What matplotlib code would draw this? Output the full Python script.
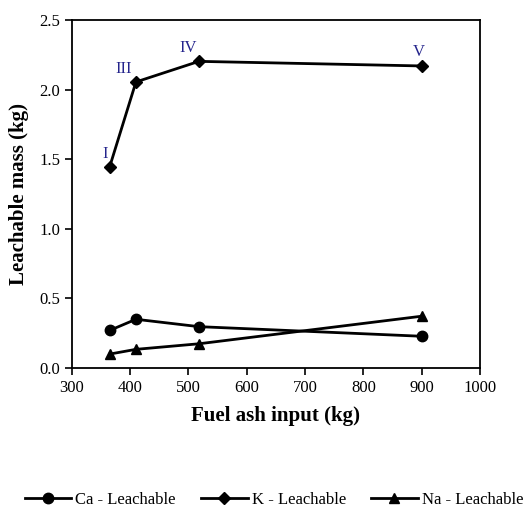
import matplotlib
matplotlib.use("Agg")
import matplotlib.pyplot as plt

plt.rcParams['font.family'] = ['Liberation Serif', 'DejaVu Serif']

# data
ash_input = [365, 410, 518, 900]
ca_leach = [0.27, 0.35, 0.297, 0.228]
k_leach = [1.446, 2.055, 2.203, 2.17]
na_leach = [0.10, 0.134, 0.174, 0.372]
run_labels = ['I', 'III', 'IV', 'V']
label_offsets = [(-5, 13), (-12, 13), (-11, 13), (-3, 14)]

fig = plt.figure(figsize=(5.28, 5.08), dpi=100)
ax = fig.add_axes([0.136, 0.2756, 0.773, 0.685])

ax.plot(ash_input, ca_leach, color='black', lw=2, marker='o', ms=7.5, label='Ca - Leachable')
ax.plot(ash_input, k_leach, color='black', lw=2, marker='D', ms=6, label='K - Leachable')
ax.plot(ash_input, na_leach, color='black', lw=2, marker='^', ms=7.5, label='Na - Leachable')

for x, y, lab, off in zip(ash_input, k_leach, run_labels, label_offsets):
    ax.annotate(lab, (x, y), xytext=off, textcoords='offset pixels',
                ha='center', va='center', fontsize=12, color='#24248c')

ax.set_xlim(300, 1000)
ax.set_ylim(0, 2.5)
ax.set_xticks(range(300, 1001, 100))
ax.set_yticks([0, 0.5, 1.0, 1.5, 2.0, 2.5])
ax.yaxis.set_major_formatter(matplotlib.ticker.FormatStrFormatter('%.1f'))
ax.tick_params(direction='out', length=5, width=1.2, labelsize=12, top=False, right=False)
for s in ax.spines.values():
    s.set_linewidth(1.3)

ax.set_xlabel('Fuel ash input (kg)', fontsize=15, fontweight='bold', labelpad=7)
ax.set_ylabel('Leachable mass (kg)', fontsize=15, fontweight='bold', labelpad=7)

fig.legend(loc='center', bbox_to_anchor=(0.519, 0.0157), ncol=3, frameon=False,
           fontsize=12, handlelength=2.8, columnspacing=1.5, handletextpad=0.25)

fig.savefig('out.png', dpi=100)
